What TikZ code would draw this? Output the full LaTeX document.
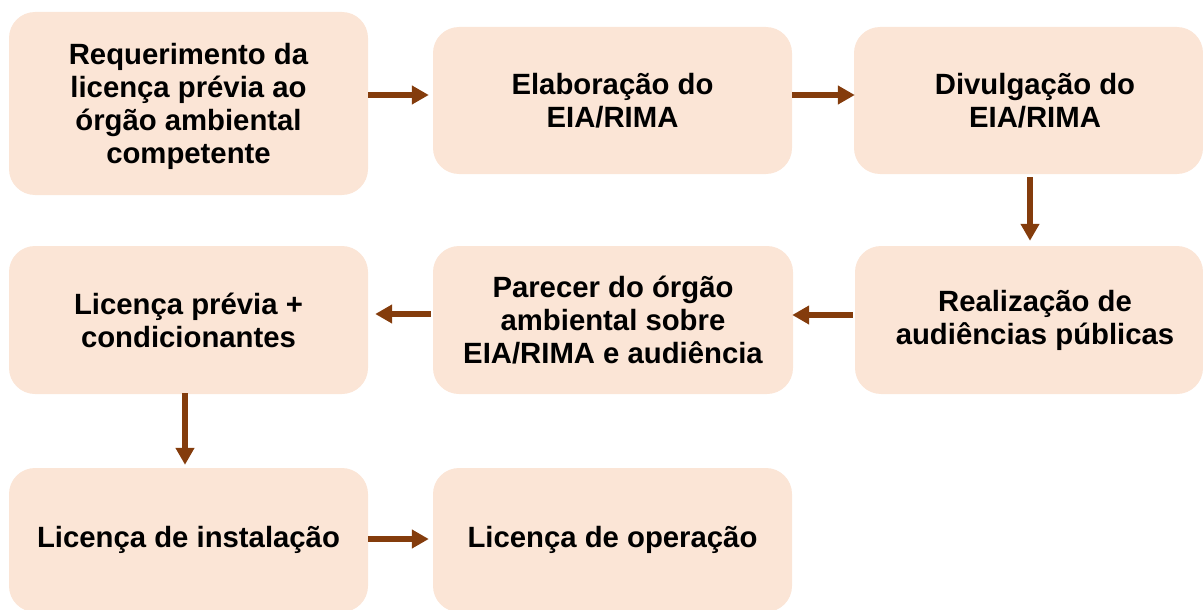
\documentclass[tikz,border=0pt]{standalone}
\usepackage{fontspec}
\setmainfont{Liberation Sans}
\usetikzlibrary{arrows.meta}
\definecolor{boxfill}{HTML}{FBE5D6}
\definecolor{arrcol}{HTML}{843C0C}
\tikzset{
  stepbox/.style={fill=boxfill, draw=none, rounded corners=26pt, inner sep=0pt,
    font=\fontsize{29.3pt}{33pt}\selectfont\bfseries, align=center, text=black},
  txt/.style={font=\fontsize{29.3pt}{33pt}\selectfont\bfseries, align=center, text=black, inner sep=0pt},
  arr/.style={draw=arrcol, line width=6pt, -{Triangle[length=17pt,width=18pt]}, arrcol}
}
\begin{document}
\begin{tikzpicture}[x=1pt,y=-1pt]
\useasboundingbox (0,0) rectangle (1203,610);
\clip (0,0) rectangle (1203,610);
\node[stepbox, minimum width=359pt, minimum height=183pt,
  label={[txt,yshift=-3pt]center:Requerimento da\\licença prévia ao\\órgão ambiental\\competente}] (b1) at (188.5,103.5) {};
\node[stepbox, minimum width=359pt, minimum height=147pt] (b2) at (612.5,100.5) {Elaboração do\\EIA/RIMA};
\node[stepbox, minimum width=349pt, minimum height=147pt,
  label={[txt,xshift=6.5pt]center:Divulgação do\\EIA/RIMA}] (b3) at (1028.5,100.5) {};
\node[stepbox, minimum width=359pt, minimum height=148pt] (b4) at (188.5,320) {Licença prévia +\\condicionantes};
\node[stepbox, minimum width=360pt, minimum height=148pt] (b5) at (613,320) {Parecer do órgão\\ambiental sobre\\EIA/RIMA e audiência};
\node[stepbox, minimum width=348pt, minimum height=148pt,
  label={[txt,xshift=6pt]center:Realização de\\audiências públicas}] (b6) at (1029,320) {};
\node[stepbox, minimum width=359pt, minimum height=144pt] (b7) at (188.5,540) {Licença de instalação};
\node[stepbox, minimum width=359pt, minimum height=144pt] (b8) at (612.5,540) {Licença de operação};

\draw[arr] ([yshift=8.5pt]b1.east) -- ([xshift=-4pt,yshift=8.5pt]b1.east -| b2.west);
\draw[arr] ([yshift=5.5pt]b2.east) -- ([xshift=1pt,yshift=5.5pt]b3.west);
\draw[arr] ([xshift=1.5pt,yshift=-3pt]b3.south) -- ([xshift=1pt,yshift=5pt]b6.north);
\draw[arr] ([xshift=-2pt,yshift=5pt]b6.west) -- ([xshift=-1pt,yshift=5pt]b5.east);
\draw[arr] ([xshift=-2pt,yshift=6pt]b5.west) -- ([xshift=7pt,yshift=6pt]b4.east);
\draw[arr] ([xshift=-3.5pt,yshift=1pt]b4.south) -- ([xshift=-3.5pt,yshift=3pt]b7.north);
\draw[arr] ([yshift=1pt]b7.east) -- ([xshift=-4pt,yshift=1pt]b8.west);
\end{tikzpicture}
\end{document}
